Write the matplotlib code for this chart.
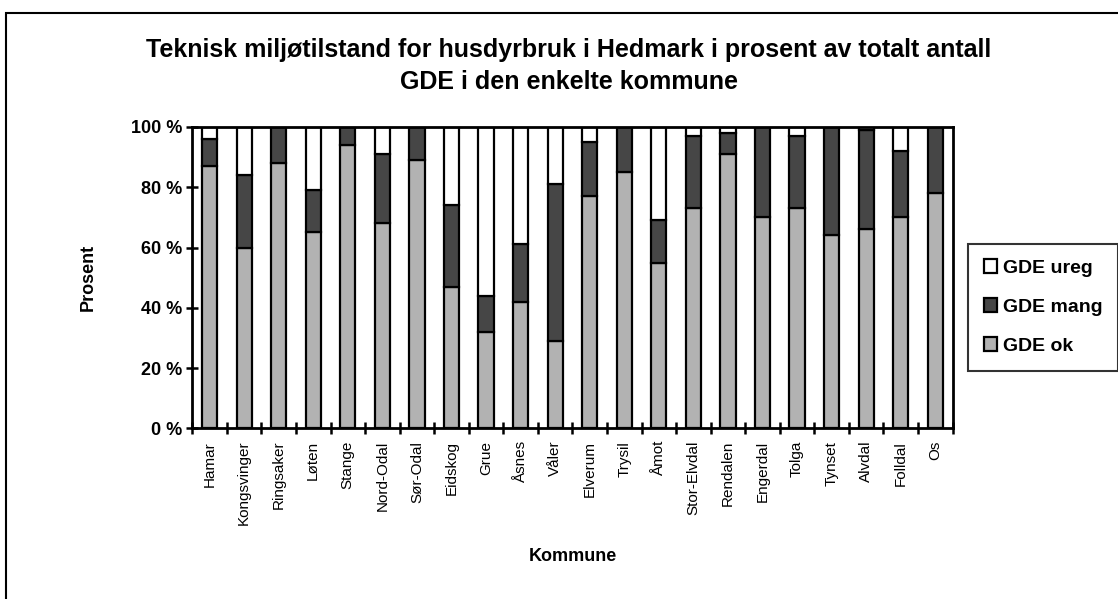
import matplotlib.pyplot as plt
import numpy as np
from matplotlib.patches import Rectangle

plt.rcParams['font.family'] = ['Liberation Sans', 'DejaVu Sans']

# Data (prosent av totalt antall GDE per kommune)
kommuner = ["Hamar", "Kongsvinger", "Ringsaker", "Løten", "Stange", "Nord-Odal",
            "Sør-Odal", "Eidskog", "Grue", "Åsnes", "Våler", "Elverum", "Trysil",
            "Åmot", "Stor-Elvdal", "Rendalen", "Engerdal", "Tolga", "Tynset",
            "Alvdal", "Folldal", "Os"]
gde_ok = [87, 60, 88, 65, 94, 68, 89, 47, 32, 42, 29, 77, 85, 55, 73, 91, 70, 73, 64, 66, 70, 78]
gde_mang = [9, 24, 12, 14, 6, 23, 11, 27, 12, 19, 52, 18, 15, 14, 24, 7, 30, 24, 36, 33, 22, 22]
gde_ureg = [4, 16, 0, 21, 0, 9, 0, 26, 56, 39, 19, 5, 0, 31, 3, 2, 0, 3, 0, 1, 8, 0]
y_ticks = [0, 20, 40, 60, 80, 100]

# Farger
LYS_GRA = "#b2b2b2"
MORK_GRA = "#464646"
HVIT = "#ffffff"

fig = plt.figure(figsize=(11.18, 5.99), dpi=100)
ax = fig.add_axes([0.172, 0.285, 0.680, 0.503])

x = np.arange(len(kommuner))
ok = np.array(gde_ok)
mang = np.array(gde_mang)
ureg = np.array(gde_ureg)

bw = 0.44
ax.bar(x, ok, bw, color=LYS_GRA, edgecolor="black", linewidth=1.6, label="GDE ok")
ax.bar(x, mang, bw, bottom=ok, color=MORK_GRA, edgecolor="black", linewidth=1.6, label="GDE mang")
ax.bar(x, ureg, bw, bottom=ok + mang, color=HVIT, edgecolor="black", linewidth=1.6, label="GDE ureg")

ax.set_xlim(-0.5, len(kommuner) - 0.5)
ax.set_ylim(0, 100)

# Akser
ax.set_yticks(y_ticks)
ax.set_yticklabels([f"{v} %" for v in y_ticks], fontsize=13, fontweight="bold")
ax.tick_params(axis="y", direction="inout", length=9, width=1.8, pad=3)

ax.set_xticks(x)
ax.set_xticklabels(kommuner, rotation=90, fontsize=11)
ax.tick_params(axis="x", which="major", length=0, pad=9)
ax.set_xticks(np.arange(len(kommuner) + 1) - 0.5, minor=True)
ax.tick_params(axis="x", which="minor", direction="inout", length=9, width=1.8)

for s in ax.spines.values():
    s.set_linewidth(2)

ax.set_ylabel("Prosent", fontsize=13, fontweight="bold", labelpad=24)
ax.set_xlabel("Kommune", fontsize=13, fontweight="bold", labelpad=16)

fig.text(0.509, 0.890, "Teknisk miljøtilstand for husdyrbruk i Hedmark i prosent av totalt antall\nGDE i den enkelte kommune",
         ha="center", va="center", fontsize=18, fontweight="bold", linespacing=1.45)

# Legende
handles, labels = ax.get_legend_handles_labels()
leg = fig.legend(handles[::-1], labels[::-1], loc="upper left", bbox_to_anchor=(0.866, 0.593),
                 prop={"weight": "bold", "size": 14}, frameon=True, fancybox=False,
                 edgecolor="black", handlelength=0.7, handleheight=0.7, handletextpad=0.3,
                 labelspacing=1.1, borderpad=0.8, borderaxespad=0)
leg.get_frame().set_linewidth(1.5)

# Ramme rundt hele figuren
fig.patches.append(Rectangle((0.005, -0.05), 1.1, 1.028, transform=fig.transFigure,
                             fill=False, edgecolor="black", linewidth=1.5))

fig.savefig("out.png", dpi=100)
